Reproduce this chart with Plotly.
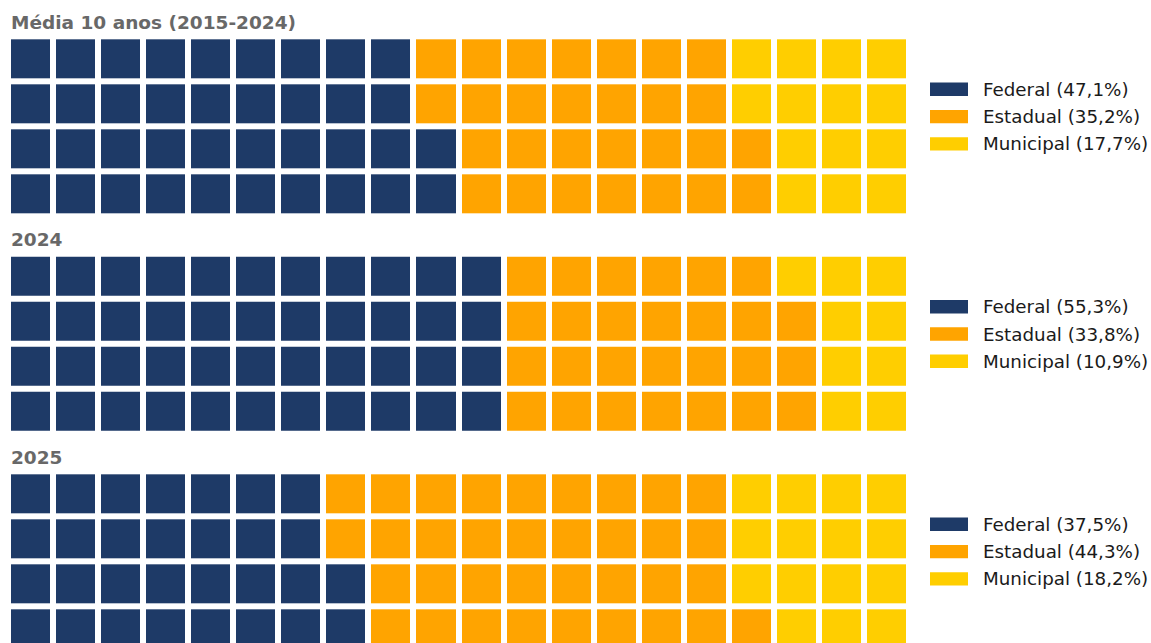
import plotly.graph_objects as go

W, H = 1151, 643
OFF = 0  # body margin removed via post_script below
FW, FH = W - OFF, H - OFF

panel_titles = ["Média 10 anos (2015-2024)", "2024", "2025"]
categories = ["Federal", "Estadual", "Municipal"]
colors = ["#1e3a67", "#ffa400", "#ffce00"]
# percentages shown in the legends
pct_media = [47.1, 35.2, 17.7]
pct_2024 = [55.3, 33.8, 10.9]
pct_2025 = [37.5, 44.3, 18.2]
# number of squares (of 80) per category
cells_media = [38, 28, 14]
cells_2024 = [44, 27, 9]
cells_2025 = [30, 35, 15]

n_rows, n_cols = 4, 20

panels = [
    (panel_titles[0], pct_media, cells_media),
    (panel_titles[1], pct_2024, cells_2024),
    (panel_titles[2], pct_2025, cells_2025),
]

def waffle_grid(cells):
    z = [[None] * n_cols for _ in range(n_rows)]
    k = 0
    for cat, n in enumerate(cells):
        for _ in range(n):
            col = k // n_rows
            row_from_bottom = k % n_rows
            z[n_rows - 1 - row_from_bottom][col] = cat
            k += 1
    return z

def py(p):
    return 1 - (p - OFF) / FH

def px(p):
    return (p - OFF) / FW

fig = go.Figure()
shapes = []
annotations = []

pitch = 45.0
panel_tops = [36.3, 253.7, 471.3]   # screen pixel top of grid area (incl. half gap)
grid_x0, grid_x1 = 8.0, 909.0

for i, (title, pcts, cells) in enumerate(panels):
    ax = "" if i == 0 else str(i + 1)
    top = panel_tops[i]
    bottom = min(top + n_rows * pitch, H)
    yr_bottom = -0.5 + (bottom - top) / pitch
    fig.add_trace(go.Heatmap(
        z=waffle_grid(cells),
        x=list(range(n_cols)),
        y=list(range(n_rows)),
        colorscale=[[0, colors[0]], [0.5, colors[1]], [1, colors[2]]],
        zmin=0, zmax=2,
        xgap=6, ygap=6,
        showscale=False,
        hoverinfo="skip",
        xaxis="x" + ax, yaxis="y" + ax,
    ))
    fig.update_layout(**{
        "xaxis" + ax: dict(domain=[px(grid_x0), px(grid_x1)], range=[-0.5, n_cols - 0.5],
                           visible=False, fixedrange=True),
        "yaxis" + ax: dict(domain=[py(bottom), py(top)], range=[yr_bottom, -0.5],
                           visible=False, fixedrange=True),
    })
    # panel title
    annotations.append(dict(
        text="<b>" + title + "</b>", x=px(9), y=py(top - 13.8),
        xref="paper", yref="paper", xanchor="left", yanchor="middle",
        showarrow=False, font=dict(family="DejaVu Sans", size=18.5, color="#686868"),
    ))
    # legend
    for j, (cat, p) in enumerate(zip(categories, pcts)):
        cy = top + 3 + 50 + j * 27.3
        shapes.append(dict(
            type="rect", xref="paper", yref="paper",
            x0=px(930), x1=px(968), y0=py(cy - 6.7), y1=py(cy + 6.7),
            fillcolor=colors[j], line=dict(width=0),
        ))
        annotations.append(dict(
            text=f"{cat} ({str(p).replace('.', ',')}%)", x=px(981), y=py(cy),
            xref="paper", yref="paper", xanchor="left", yanchor="middle",
            showarrow=False, font=dict(family="DejaVu Sans", size=18.3, color="#1a1a1a"),
        ))

fig.update_layout(
    width=FW, height=FH,
    margin=dict(l=0, r=0, t=0, b=0),
    paper_bgcolor="white", plot_bgcolor="white",
    showlegend=False,
    shapes=shapes, annotations=annotations,
)

fig.write_html(
    "out.html",
    config={"displayModeBar": False, "staticPlot": True},
    post_script="document.documentElement.style.overflow='hidden';"
                "document.body.style.margin='0';document.body.style.overflow='hidden';",
)
